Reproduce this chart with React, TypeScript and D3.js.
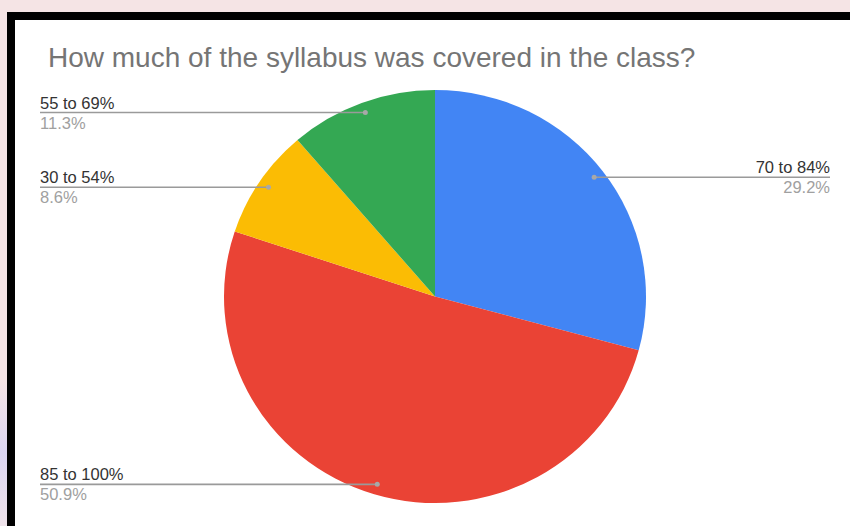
import React from "react";
import * as d3 from "d3";

const categories = ["70 to 84%", "85 to 100%", "30 to 54%", "55 to 69%"];
const values = [29.2, 50.9, 8.6, 11.3];
const colors = ["#4285F4", "#EA4335", "#FBBC04", "#34A853"];
const title = "How much of the syllabus was covered in the class?";

export default function App() {
  const W = 850, H = 526;
  const cx = 435, cy = 296.5;
  const ry = 206.5, rx = 211;
  const sx = rx / ry;
  const pie = d3.pie<number>().sort(null).value((d) => d);
  const arcs = pie(values);
  const arc = d3.arc<d3.PieArcDatum<number>>().innerRadius(0).outerRadius(ry);

  return (
    <svg width={W} height={H} style={{ position: "absolute", left: 0, top: 0 }}
      fontFamily="'Liberation Sans', Arial, sans-serif">
      <defs>
        <linearGradient id="lav" x1="0" y1="0" x2="0" y2="1">
          <stop offset="0" stopColor="#f5e4e5" />
          <stop offset="0.5" stopColor="#dcd6f2" />
          <stop offset="1" stopColor="#efe3ea" />
        </linearGradient>
      </defs>
      <rect x={0} y={0} width={W} height={H} fill="#f5e4e5" />
      <rect x={0} y={380} width={8} height={146} fill="url(#lav)" />
      <rect x={7} y={12} width={W - 7} height={H - 12} fill="#000" />
      <rect x={15} y={20} width={W - 15} height={H - 20} fill="#fff" />
      <text x={48} y={67} fontSize={28} fill="#757575">{title}</text>
      <g transform={`translate(${cx},${cy}) scale(${sx},1)`}>
        {arcs.map((a, i) => (
          <path key={i} d={arc(a) || ""} fill={colors[i]} />
        ))}
      </g>
      {arcs.map((a, i) => {
        const mid = (a.startAngle + a.endAngle) / 2;
        const dx = cx + Math.sin(mid) * rx * 0.95;
        const dy = cy - Math.cos(mid) * ry * 0.95;
        const right = dx > cx;
        const lx = right ? 830 : 40;
        return (
          <g key={"l" + i}>
            <line x1={dx} y1={dy} x2={lx} y2={dy} stroke="#9a9a9a" strokeWidth={1.6} />
            <circle cx={dx} cy={dy} r={2.5} fill="#a8a8a8" />
            <text x={lx} y={dy - 4} fontSize={16.5} fill="#333" textAnchor={right ? "end" : "start"}>
              {categories[i]}
            </text>
            <text x={lx} y={dy + 16} fontSize={16.5} fill="#a0a0a0" textAnchor={right ? "end" : "start"}>
              {values[i].toFixed(1)}%
            </text>
          </g>
        );
      })}
    </svg>
  );
}
